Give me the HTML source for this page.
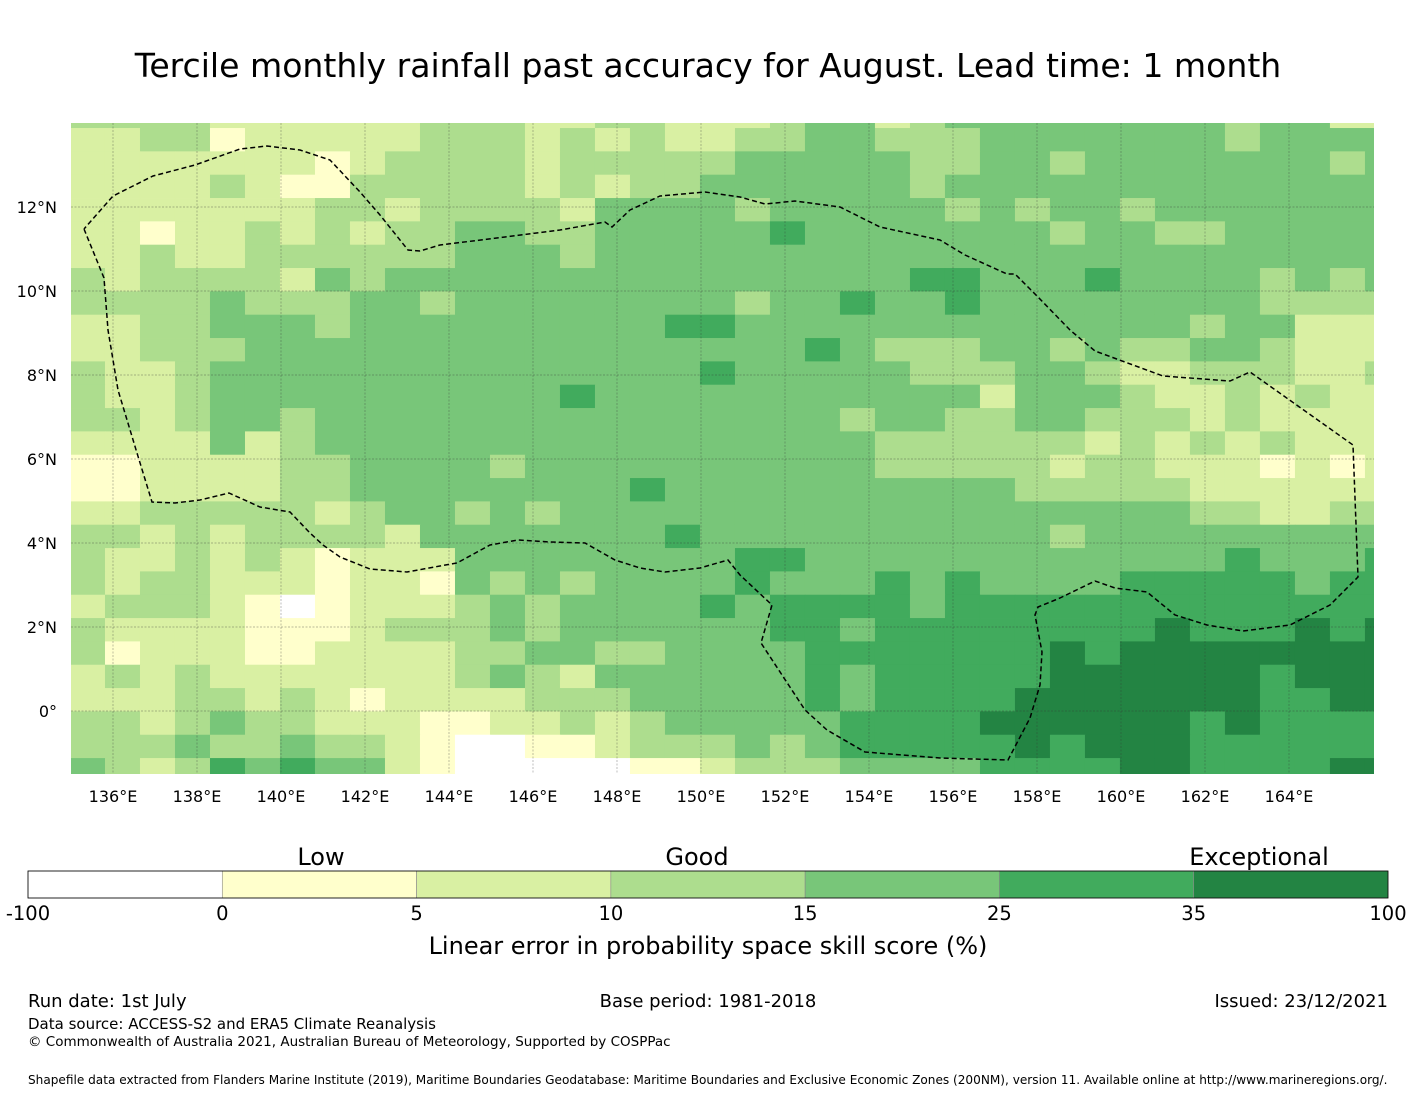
<!DOCTYPE html>
<html><head><meta charset="utf-8"><style>
body{margin:0;background:#fff;width:1416px;height:1095px;overflow:hidden;font-family:"Liberation Sans","DejaVu Sans",sans-serif;}
svg text{font-family:"DejaVu Sans","Liberation Sans",sans-serif;}
</style></head><body>
<svg id="chart" width="1416" height="1095" xmlns="http://www.w3.org/2000/svg">
<text x="708" y="77" font-size="33.1" text-anchor="middle">Tercile monthly rainfall past accuracy for August. Lead time: 1 month</text>
<defs><clipPath id="mapclip"><rect x="71" y="123" width="1303" height="651"/></clipPath></defs>
<g id="map" clip-path="url(#mapclip)"></g>
<g id="axes"></g>
<g id="cbar"></g>
<text x="708" y="954" font-size="24" text-anchor="middle">Linear error in probability space skill score (%)</text>
<text x="28" y="1007" font-size="18">Run date: 1st July</text>
<text x="708" y="1007" font-size="18" text-anchor="middle">Base period: 1981-2018</text>
<text x="1388" y="1007" font-size="18" text-anchor="end">Issued: 23/12/2021</text>
<text x="28" y="1029" font-size="15">Data source: ACCESS-S2 and ERA5 Climate Reanalysis</text>
<text x="28" y="1046" font-size="13.5">© Commonwealth of Australia 2021, Australian Bureau of Meteorology, Supported by COSPPac</text>
<text x="28" y="1084" font-size="12.1">Shapefile data extracted from Flanders Marine Institute (2019), Maritime Boundaries Geodatabase: Maritime Boundaries and Exclusive Economic Zones (200NM), version 11. Available online at http://www.marineregions.org/.</text>
</svg>
<script>
const rowData = [
"3333222222333"+"223322234423"+"4444444434422",
"2233122222333"+"232322334433"+"3444444434444",
"2222222123333"+"233333444443"+"3443444444434",
"2222321133333"+"232334444443"+"4444444444444",
"2222222332333"+"324444344444"+"3434434444444",
"2212232323344"+"334444454444"+"4443443344444",
"2232233333344"+"434444444444"+"4444444444444",
"3233332434444"+"444444444445"+"5444544443434",
"3333433344344"+"444444344544"+"5444444443333",
"2233444344444"+"444455444444"+"4444444344222",
"2233344444444"+"444444445433"+"3443433443222",
"3223444444444"+"444445444443"+"3344322333223",
"3223444444444"+"454444444444"+"4244432232322",
"3323443444444"+"444444444344"+"3344333232222",
"2222423444444"+"444444444433"+"3333232323222",
"1122223344443"+"444444444433"+"3332332221212",
"1122223344444"+"444544444444"+"4433333222222",
"2233333234434"+"344444444444"+"4444444332233",
"3323233332444"+"444454444444"+"4443444444444",
"3223232122244"+"444444554444"+"4444444454445",
"3233222122143"+"434444544454"+"5444455555455",
"2333210122234"+"344445455554"+"5555555555555",
"3222211123334"+"344444455455"+"5555556555656",
"3122211222233"+"443344445555"+"5556566666666",
"2323222222234"+"324444445455"+"5556666665666",
"2223323212222"+"333444445455"+"5566666665566",
"3323433222112"+"232344444555"+"5666666565555",
"3334334332100"+"112333434555"+"5565666555555",
"4323545442100"+"000112333444"+"4555566555566"
];
const lonTicks = [136,138,140,142,144,146,148,150,152,154,156,158,160,162,164];
const latTicks = [12,10,8,6,4,2,0];
const cbarBounds = ["-100","0","5","10","15","25","35","100"];
const cbarCategories = ["Low","Good","Exceptional"];
const palette = ["#ffffff","#ffffcc","#d9f0a3","#addd8e","#78c679","#41ab5d","#238443"];
const gridLeftLon = 134.976, dLon = 0.8333, gridTopLat = 14.436, dLat = 0.5556;
const eezTrace = [[84,229],[104,278],[108,330],[118,390],[137,453],[152,502],[175,503],[200,500],[229,493],[260,507],[290,512],[310,533],[323,545],[340,557],[370,569],[407,572],[440,566],[457,563],[490,545],[518,540],[550,542],[585,543],[615,560],[640,568],[665,572],[700,568],[728,560],[740,575],[772,605],[761,643],[805,710],[827,730],[865,752],[940,758],[1008,760],[1030,718],[1040,685],[1042,652],[1035,615],[1038,607],[1060,598],[1095,581],[1115,588],[1147,592],[1175,615],[1207,625],[1243,631],[1290,625],[1330,605],[1358,577],[1353,445],[1250,372],[1230,381],[1163,376],[1095,351],[1070,330],[1037,296],[1015,274],[1007,274],[965,255],[940,240],[880,227],[840,207],[795,201],[765,204],[740,197],[705,192],[660,196],[630,210],[612,227],[605,222],[560,230],[505,237],[440,245],[420,251],[408,250],[380,215],[360,192],[330,160],[300,150],[267,146],[240,149],[195,165],[153,176],[113,196],[84,229]];
const eezLonLat = eezTrace.map(p => [136 + (p[0] - 113) / 42, (711 - p[1]) / 42]);

const NS = "http://www.w3.org/2000/svg";
function xScale(lon){ return 113 + (lon - 136) * 42; }
function yScale(lat){ return 711 - lat * 42; }
function mk(tag, attrs, parent){ const e = document.createElementNS(NS, tag); for (const k in attrs) e.setAttribute(k, attrs[k]); parent.appendChild(e); return e; }

const map = document.getElementById('map');
rowData.forEach((row, r) => {
  for (let c = 0; c < row.length; c++) {
    const v = +row[c];
    const x0 = xScale(gridLeftLon + c * dLon), x1 = xScale(gridLeftLon + (c + 1) * dLon);
    const y0 = yScale(gridTopLat - r * dLat), y1 = yScale(gridTopLat - (r + 1) * dLat);
    const cell = mk('rect', {x: x0.toFixed(2), y: y0.toFixed(2), width: (x1 - x0 + 0.4).toFixed(2), height: (y1 - y0 + 0.4).toFixed(2), fill: palette[v]}, map);
    
    
  }
});
lonTicks.forEach(lon => {
  const l = mk('line', {x1: xScale(lon), x2: xScale(lon), y1: 123, y2: 774, stroke: '#333', 'stroke-width': 0.7, 'stroke-opacity': 0.45, 'stroke-dasharray': '2,1.5'}, map);
  
  
});
latTicks.forEach(lat => {
  const l = mk('line', {x1: 71, x2: 1374, y1: yScale(lat), y2: yScale(lat), stroke: '#333', 'stroke-width': 0.7, 'stroke-opacity': 0.45, 'stroke-dasharray': '2,1.5'}, map);
  
  
});
const eez = mk('path', {d: 'M' + eezLonLat.map(p => xScale(p[0]).toFixed(1) + ',' + yScale(p[1]).toFixed(1)).join('L'), fill: 'none', stroke: '#000', 'stroke-width': 1.5, 'stroke-dasharray': '5,3'}, map);



const axes = document.getElementById('axes');
lonTicks.forEach(lon => {
  const t = mk('text', {x: xScale(lon), y: 802, 'font-size': 16, 'text-anchor': 'middle'}, axes);
  t.textContent = lon + '°E';
  
  
});
latTicks.forEach(lat => {
  const t = mk('text', {x: 57, y: yScale(lat) + 6, 'font-size': 16, 'text-anchor': 'end'}, axes);
  t.textContent = lat === 0 ? '0°' : lat + '°N';
  
  
});

const cbar = document.getElementById('cbar');
const cbX0 = 28, cbX1 = 1388, segW = (cbX1 - cbX0) / 7;
for (let i = 0; i < 7; i++) {
  const s = mk('rect', {x: cbX0 + i * segW, y: 871, width: segW, height: 27, fill: palette[i], stroke: '#888', 'stroke-width': 0.6}, cbar);
  
  
}
const fr = mk('rect', {x: cbX0, y: 871, width: cbX1 - cbX0, height: 27, fill: 'none', stroke: '#000', 'stroke-width': 0.8}, cbar);


cbarBounds.forEach((b, i) => {
  const t = mk('text', {x: cbX0 + i * segW, y: 920, 'font-size': 19.5, 'text-anchor': 'middle'}, cbar);
  t.textContent = b;
  
  
});
const catX = [321, 697, 1259];
cbarCategories.forEach((c, i) => {
  const t = mk('text', {x: catX[i], y: 865, 'font-size': 24, 'text-anchor': 'middle'}, cbar);
  t.textContent = c;
  
  
});
</script>
</body></html>
